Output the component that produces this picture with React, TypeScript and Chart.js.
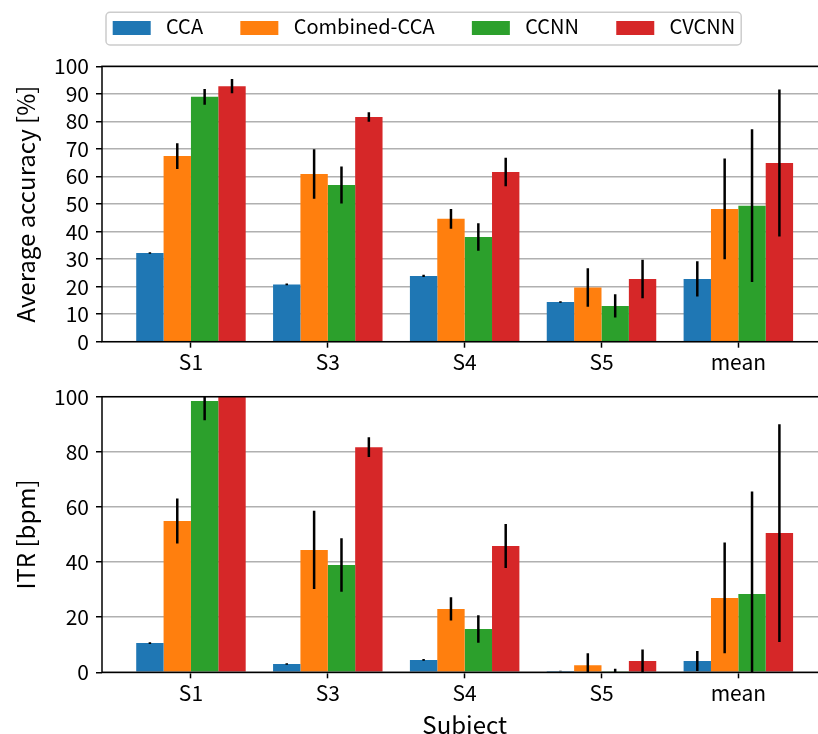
import React, { useEffect, useRef } from 'react';
import { Chart, registerables } from 'chart.js';
Chart.register(...registerables);

const subjects = ['S1', 'S3', 'S4', 'S5', 'mean'];
const methods = ['CCA', 'Combined-CCA', 'CCNN', 'CVCNN'];
const colors = ['#1f77b4', '#ff7f0e', '#2ca02c', '#d62728'];

// Average accuracy [%]
const accCCA = [32.2, 20.8, 23.9, 14.4, 22.8];
const accCombined = [67.4, 60.9, 44.6, 19.7, 48.2];
const accCCNN = [88.9, 56.9, 38.0, 13.0, 49.4];
const accCVCNN = [92.8, 81.6, 61.6, 22.8, 64.9];
const accCCAErr = [0.3, 0.3, 0.4, 0.3, 6.4];
const accCombinedErr = [4.7, 9.0, 3.6, 7.0, 18.3];
const accCCNNErr = [2.9, 6.7, 5.0, 4.2, 27.7];
const accCVCNNErr = [2.6, 1.7, 5.2, 7.0, 26.7];

// ITR [bpm]
const itrCCA = [10.6, 3.0, 4.5, 0.5, 4.1];
const itrCombined = [54.9, 44.4, 23.0, 2.6, 27.0];
const itrCCNN = [98.4, 38.9, 15.7, 0.2, 28.4];
const itrCVCNN = [100.0, 81.7, 45.8, 4.1, 50.5];
const itrCCAErr = [0.3, 0.3, 0.3, 0.1, 3.6];
const itrCombinedErr = [8.2, 14.2, 4.2, 4.3, 20.1];
const itrCCNNErr = [6.9, 9.7, 5.0, 1.1, 37.2];
const itrCVCNNErr = [0, 3.6, 8.0, 4.2, 39.5];

const accTicks = { min: 0, max: 100, step: 10 };
const itrTicks = { min: 0, max: 100, step: 20 };

const FONT = '"Noto Sans CJK JP", "Noto Sans", sans-serif';
const TICK_SIZE = 21;
const TITLE_SIZE = 24;
const LEGEND_SIZE = 20;
const CANVAS_W = 830;
const PLOT_LEFT = 102;
const PLOT_RIGHT = 827.3;

function makeDatasets(values: number[][], errors: number[][]) {
  return methods.map((m, k) => ({
    label: m,
    data: values[k].map((v, i) => ({ x: i, y: v })),
    errors: errors[k],
    backgroundColor: colors[k],
    borderWidth: 0,
    barPercentage: 1.0,
    categoryPercentage: 0.8,
  }));
}

const errorBarPlugin = {
  id: 'errorBars',
  afterDraw(chart: any) {
    const ctx = chart.ctx;
    const yScale = chart.scales.y;
    const area = chart.chartArea;
    ctx.save();
    ctx.beginPath();
    ctx.rect(area.left, area.top, area.right - area.left, area.bottom - area.top);
    ctx.clip();
    ctx.strokeStyle = '#000';
    ctx.lineWidth = 2.5;
    chart.data.datasets.forEach((ds: any, d: number) => {
      const meta = chart.getDatasetMeta(d);
      meta.data.forEach((bar: any, i: number) => {
        const v = ds.data[i].y;
        const e = ds.errors[i];
        if (!e) return;
        const y1 = yScale.getPixelForValue(v + e);
        const y2 = yScale.getPixelForValue(v - e);
        ctx.beginPath();
        ctx.moveTo(bar.x, y1);
        ctx.lineTo(bar.x, y2);
        ctx.stroke();
      });
    });
    ctx.restore();
    // spines
    ctx.save();
    ctx.strokeStyle = '#000';
    ctx.lineWidth = 1.5;
    ctx.strokeRect(area.left, area.top, area.right - area.left, area.bottom - area.top);
    ctx.restore();
  },
};

function makeTitlePlugin(yTitle: string, yTitleX: number, xTitle: string | null, xTitleY: number) {
  return {
    id: 'axisTitles',
    afterDraw(chart: any) {
      const ctx = chart.ctx;
      const area = chart.chartArea;
      ctx.save();
      ctx.fillStyle = '#000';
      ctx.font = `${TITLE_SIZE}px ${FONT}`;
      ctx.textAlign = 'center';
      ctx.textBaseline = 'alphabetic';
      ctx.translate(yTitleX, (area.top + area.bottom) / 2);
      ctx.rotate(-Math.PI / 2);
      ctx.fillText(yTitle, 0, 0);
      ctx.restore();
      if (xTitle) {
        ctx.save();
        ctx.fillStyle = '#000';
        ctx.font = `${TITLE_SIZE}px ${FONT}`;
        ctx.textAlign = 'center';
        ctx.textBaseline = 'alphabetic';
        ctx.fillText(xTitle, (area.left + area.right) / 2, xTitleY);
        ctx.restore();
      }
    },
  };
}

const legendPlugin = {
  id: 'boxLegend',
  afterDraw(chart: any) {
    const ctx = chart.ctx;
    ctx.save();
    ctx.font = `${LEGEND_SIZE}px ${FONT}`;
    const boxX = 106, boxY = 12.3, boxH = 32.7;
    const patchW = 38, patchH = 14, patchY = 21;
    const gapText = 15.3, gapItem = 37.3;
    let x = 112.7;
    const items: { x: number; tx: number; w: number }[] = [];
    chart.data.datasets.forEach((ds: any) => {
      const w = ctx.measureText(ds.label).width;
      items.push({ x, tx: x + patchW + gapText, w });
      x = x + patchW + gapText + w + gapItem;
    });
    const last = items[items.length - 1];
    const boxW = last.tx + last.w + 6 - boxX;
    ctx.beginPath();
    ctx.roundRect(boxX, boxY, boxW, boxH, 4);
    ctx.fillStyle = 'rgba(255,255,255,0.8)';
    ctx.fill();
    ctx.strokeStyle = '#cccccc';
    ctx.lineWidth = 1.5;
    ctx.stroke();
    chart.data.datasets.forEach((ds: any, k: number) => {
      const it = items[k];
      ctx.fillStyle = ds.backgroundColor;
      ctx.fillRect(it.x, patchY, patchW, patchH);
      ctx.fillStyle = '#000';
      ctx.textBaseline = 'alphabetic';
      ctx.textAlign = 'left';
      ctx.fillText(ds.label, it.tx, 34.3);
    });
    ctx.restore();
  },
};

function makeConfig(
  values: number[][],
  errors: number[][],
  yt: { min: number; max: number; step: number },
  padTop: number,
  xHeight: number,
  plugins: any[]
): any {
  return {
    type: 'bar',
    data: { datasets: makeDatasets(values, errors) },
    options: {
      responsive: false,
      animation: false,
      devicePixelRatio: 1,
      layout: { padding: { top: padTop, left: 0, right: CANVAS_W - PLOT_RIGHT, bottom: 0 } },
      plugins: { legend: { display: false }, tooltip: { enabled: false } },
      scales: {
        x: {
          type: 'linear',
          min: -0.65,
          max: 4.65,
          offset: false,
          afterBuildTicks: (s: any) => {
            s.ticks = subjects.map((_, i) => ({ value: i }));
          },
          afterFit: (s: any) => {
            s.height = xHeight;
          },
          ticks: {
            autoSkip: false,
            maxRotation: 0,
            minRotation: 0,
            padding: 2,
            color: '#000',
            font: { family: FONT, size: TICK_SIZE },
            callback: (v: any) => subjects[v] ?? '',
          },
          grid: {
            offset: false,
            drawOnChartArea: false,
            drawTicks: true,
            tickLength: 6,
            tickColor: '#000',
            tickWidth: 1.5,
          },
          border: { display: false },
        },
        y: {
          min: yt.min,
          max: yt.max,
          z: 1,
          afterFit: (s: any) => {
            s.width = PLOT_LEFT;
          },
          ticks: {
            stepSize: yt.step,
            autoSkip: false,
            padding: 7,
            color: '#000',
            font: { family: FONT, size: TICK_SIZE, lineHeight: 1 },
          },
          grid: {
            color: '#b0b0b0',
            lineWidth: 1.5,
            drawTicks: true,
            tickLength: 6,
            tickColor: '#000',
            tickWidth: 1.5,
          },
          border: { display: false },
        },
      },
    },
    plugins,
  };
}

const TOP_H = 380;
const BOT_TOP = 376;
const BOT_H = 380;

export default function App() {
  const topRef = useRef<HTMLCanvasElement | null>(null);
  const botRef = useRef<HTMLCanvasElement | null>(null);

  useEffect(() => {
    const top = new Chart(
      topRef.current as HTMLCanvasElement,
      makeConfig(
        [accCCA, accCombined, accCCNN, accCVCNN],
        [accCCAErr, accCombinedErr, accCCNNErr, accCVCNNErr],
        accTicks,
        66.3,
        TOP_H - 341.7,
        [errorBarPlugin, makeTitlePlugin('Average accuracy [%]', 35, null, 0), legendPlugin]
      )
    );
    const bot = new Chart(
      botRef.current as HTMLCanvasElement,
      makeConfig(
        [itrCCA, itrCombined, itrCCNN, itrCVCNN],
        [itrCCAErr, itrCombinedErr, itrCCNNErr, itrCVCNNErr],
        itrTicks,
        396.7 - BOT_TOP,
        BOT_H - (672.3 - BOT_TOP),
        [errorBarPlugin, makeTitlePlugin('ITR [bpm]', 35, 'Subject', 734 - BOT_TOP)]
      )
    );
    return () => {
      top.destroy();
      bot.destroy();
    };
  }, []);

  return (
    <div
      style={{
        position: 'fixed',
        left: 0,
        top: 0,
        width: 818,
        height: 734,
        overflow: 'hidden',
        background: '#fff',
      }}
    >
      <canvas
        ref={topRef}
        width={CANVAS_W}
        height={TOP_H}
        style={{ position: 'absolute', left: 0, top: 0, width: CANVAS_W, height: TOP_H }}
      />
      <canvas
        ref={botRef}
        width={CANVAS_W}
        height={BOT_H}
        style={{ position: 'absolute', left: 0, top: BOT_TOP, width: CANVAS_W, height: BOT_H }}
      />
    </div>
  );
}
